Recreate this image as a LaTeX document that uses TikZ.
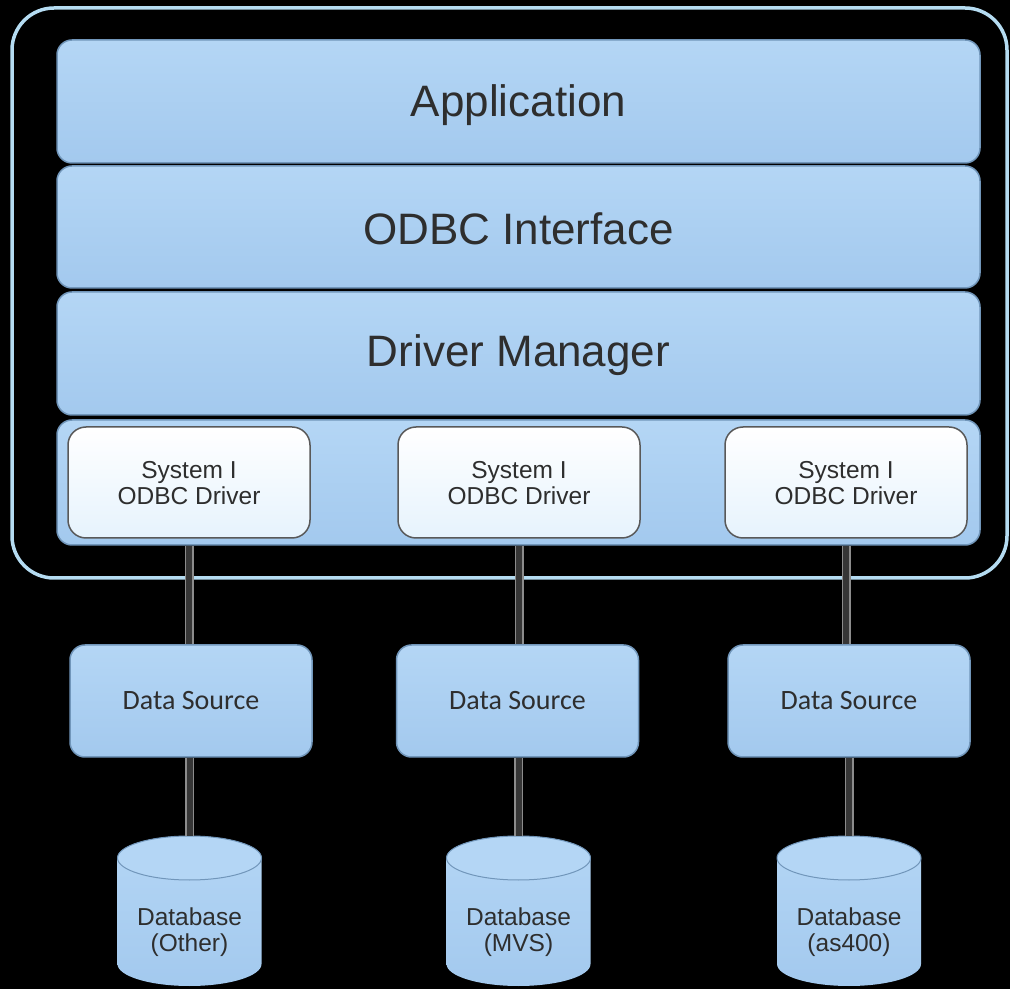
\documentclass[tikz,border=0pt]{standalone}
\usepackage{fontspec}
\setmainfont{Liberation Sans}
\newfontfamily\calfont{Carlito}
\usepackage{tikz}
\usetikzlibrary{calc}
\definecolor{bartop}{HTML}{B4D6F5}
\definecolor{barbot}{HTML}{A3C9EE}
\definecolor{baredge}{HTML}{7196BA}
\definecolor{frameblue}{HTML}{B5DCF2}
\definecolor{txtgray}{HTML}{2E2E2E}
\definecolor{linkdark}{HTML}{363636}
\definecolor{drvbot}{HTML}{E6F3FD}
\newcommand{\lowtext}[2]{\raisebox{-#1}[\height][\depth]{#2}}
\newcommand{\drvlabel}{\lowtext{4pt}{\begin{tabular}{@{}c@{}}System I\\[-1pt]ODBC Driver\end{tabular}}}
\newcommand{\dbcyl}[4]{\fill[top color=bartop, bottom color=barbot] (#2-72,131) -- (#2-72,25) arc[start angle=180, end angle=360, x radius=72pt, y radius=22pt] -- (#2+72,131) arc[start angle=0, end angle=180, x radius=72pt, y radius=22pt] -- cycle;
  \draw[baredge, line width=1pt, fill=bartop] (#2,131) ellipse[x radius=72pt, y radius=22pt];
  \coordinate (#1-top) at (#2,153);
  \node[dbtext] (#1) at (#2,57) {#3\\#4};}

\begin{document}
\begin{tikzpicture}[x=1pt, y=1pt,
    bar/.style={draw=baredge, line width=1.5pt, rounded corners=15pt,
      top color=bartop, bottom color=barbot, minimum width=923pt,
      text=txtgray, font=\fontsize{44}{50}\selectfont},
    driverbox/.style={draw=black!65, line width=1.5pt, rounded corners=18pt,
      top color=white, bottom color=drvbot, minimum width=242pt,
      minimum height=111pt, text=txtgray,
      font=\fontsize{24.5}{27}\selectfont},
    srcbox/.style={draw=baredge, line width=1.5pt, rounded corners=15pt,
      top color=bartop, bottom color=barbot, minimum width=242pt,
      minimum height=112pt, text=txtgray, font=\calfont\fontsize{28}{32}\selectfont},
    dbtext/.style={align=center, text=txtgray, font=\fontsize{24.5}{26}\selectfont},
    link/.style={draw=linkdark, line width=6pt, preaction={draw=black!45, line width=9pt}}]
        \fill[black] (0,0) rectangle (1010,989);
        \useasboundingbox (0,0) rectangle (1010,989);
        % outer frame
        \draw[frameblue, line width=3.5pt, rounded corners=42pt] (12,411) rectangle (1007,981);
        % layers
        \node[bar, minimum height=123pt] (app) at (518.5,887.5) {\lowtext{4pt}{Application}};
        \node[bar, minimum height=122pt] (odbc) at (518.5,762) {\lowtext{2pt}{ODBC Interface}};
        \node[bar, minimum height=123pt] (dm) at (518.5,635.5) {\lowtext{2pt}{Driver Manager}};
        \node[bar, minimum height=125pt] (drv) at (518.5,506.5) {};
        % drivers
        \node[driverbox] (d1) at (189,506.5) {\drvlabel};
        \node[driverbox] (d2) at (519,506.5) {\drvlabel};
        \node[driverbox] (d3) at (846,506.5) {\drvlabel};
        % data sources
        \node[srcbox] (ds1) at (191,288) {Data Source};
        \node[srcbox] (ds2) at (517.5,288) {Data Source};
        \node[srcbox] (ds3) at (849,288) {Data Source};
        % databases
        \dbcyl{db1}{189.5}{Database}{(Other)}
        \dbcyl{db2}{518.5}{Database}{(MVS)}
        \dbcyl{db3}{849}{Database}{(as400)}
        % links
        \draw[link] (d1.south |- drv.south) -- (d1.south |- ds1.north);
        \draw[link] (d2.south |- drv.south) -- (d2.south |- ds2.north);
        \draw[link] (d3.south |- drv.south) -- (d3.south |- ds3.north);
        \draw[link] (ds1.south -| db1-top) -- (db1-top);
        \draw[link] (ds2.south -| db2-top) -- (db2-top);
        \draw[link] (ds3.south -| db3-top) -- (db3-top);
\end{tikzpicture}
\end{document}
